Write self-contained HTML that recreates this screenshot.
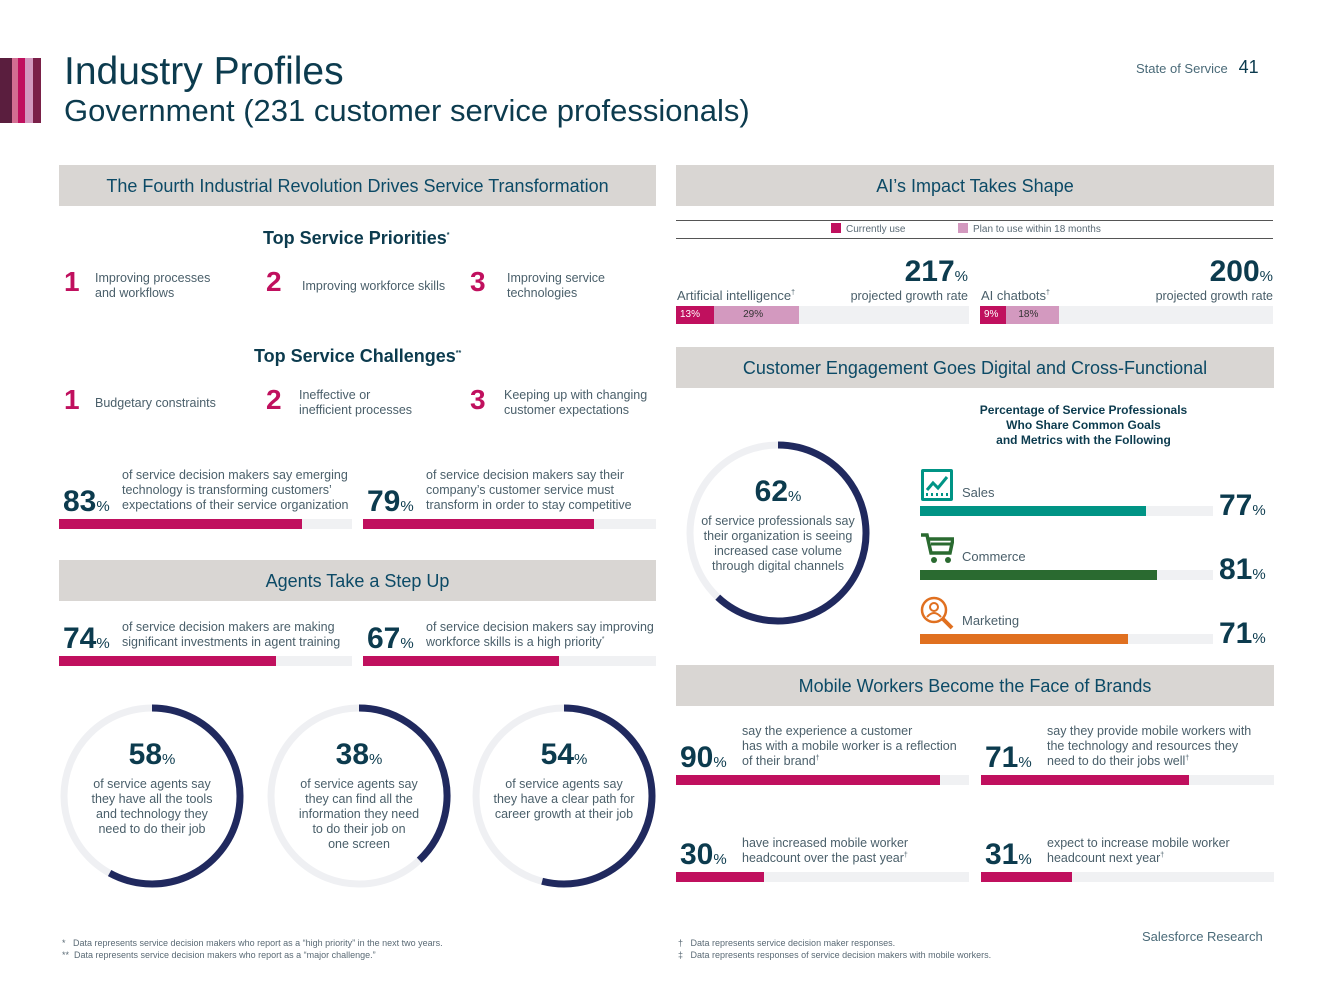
<!DOCTYPE html>
<html><head><meta charset="utf-8">
<style>
*{margin:0;padding:0;box-sizing:border-box}
body{width:1333px;height:1000px;background:#fff;position:relative;overflow:hidden;font-family:"Liberation Sans",sans-serif;color:#0c3b4e}
.a{position:absolute}
.hdr{position:absolute;background:#d9d6d3;height:41px;text-align:center;font-size:18px;line-height:43px;color:#0c4a66}
.big{font-weight:bold;color:#0c3b4e}
.pc{font-size:15px;font-weight:normal;color:#0c3b4e}
.sm{font-size:12.5px;color:#4a5f6a;line-height:15px}
sup{line-height:0;font-size:7px}
.num{font-size:28px;color:#c0105e;font-weight:bold}
.track{position:absolute;background:#f0f1f3;height:10px}
.fill{position:absolute;left:0;top:0;height:100%}
</style></head><body>
<div class="a" style="left:0;top:58px;width:41px;height:65px;display:flex">
<div style="width:12px;background:#5a1e3e"></div><div style="width:6px;background:#d36e92"></div><div style="width:7px;background:#c0105e"></div><div style="width:8px;background:#d399bf"></div><div style="width:8px;background:#7a2048"></div></div>
<div class="a" style="left:64px;top:50px;font-size:39px;color:#0c3b4e">Industry Profiles</div>
<div class="a" style="left:64px;top:93px;font-size:31px;color:#0c3b4e">Government (231 customer service professionals)</div>
<div class="a" style="left:1136px;top:57px;font-size:13px;color:#4a6a78">State of Service &nbsp; <span style="font-size:18px;color:#0c3b4e">41</span></div>

<div class="hdr" style="left:59px;top:165px;width:597px">The Fourth Industrial Revolution Drives Service Transformation</div>
<div class="hdr" style="left:676px;top:165px;width:598px">AI’s Impact Takes Shape</div>
<div class="hdr" style="left:676px;top:347px;width:598px">Customer Engagement Goes Digital and Cross-Functional</div>
<div class="hdr" style="left:59px;top:560px;width:597px">Agents Take a Step Up</div>
<div class="hdr" style="left:676px;top:665px;width:598px">Mobile Workers Become the Face of Brands</div>

<div class="a big" style="left:263px;top:228px;font-size:18px">Top Service Priorities<sup>*</sup></div>
<div class="a num" style="left:64px;top:266px">1</div>
<div class="a sm" style="left:95px;top:271px">Improving processes<br>and workflows</div>
<div class="a num" style="left:266px;top:266px">2</div>
<div class="a sm" style="left:302px;top:279px">Improving workforce skills</div>
<div class="a num" style="left:470px;top:266px">3</div>
<div class="a sm" style="left:507px;top:271px">Improving service<br>technologies</div>

<div class="a big" style="left:254px;top:346px;font-size:18px">Top Service Challenges<sup>**</sup></div>
<div class="a num" style="left:64px;top:384px">1</div>
<div class="a sm" style="left:95px;top:396px">Budgetary constraints</div>
<div class="a num" style="left:266px;top:384px">2</div>
<div class="a sm" style="left:299px;top:388px">Ineffective or<br>inefficient processes</div>
<div class="a num" style="left:470px;top:384px">3</div>
<div class="a sm" style="left:504px;top:388px">Keeping up with changing<br>customer expectations</div>

<div class="a" style="left:676px;top:220px;width:597px;height:1px;background:#555"></div>
<div class="a" style="left:676px;top:238px;width:597px;height:1px;background:#555"></div>
<div class="a" style="left:831px;top:223px;font-size:10px;color:#5a6a75"><span style="display:inline-block;width:10px;height:10px;background:#c0105e;vertical-align:-1px;margin-right:5px"></span>Currently use</div>
<div class="a" style="left:958px;top:223px;font-size:10px;color:#5a6a75"><span style="display:inline-block;width:10px;height:10px;background:#d399bf;vertical-align:-1px;margin-right:5px"></span>Plan to use within 18 months</div>
<div class="a sm" style="left:677px;top:288px;font-size:13px">Artificial intelligence<sup>†</sup></div>
<div class="a" style="left:820px;top:255px;width:148px;text-align:right;white-space:nowrap"><span class="big" style="font-size:30px">217</span><span class="pc">%</span><div class="sm" style="font-size:12.5px">projected growth rate</div></div>
<div class="a sm" style="left:981px;top:288px;font-size:13px">AI chatbots<sup>†</sup></div>
<div class="a" style="left:1120px;top:255px;width:153px;text-align:right;white-space:nowrap"><span class="big" style="font-size:30px">200</span><span class="pc">%</span><div class="sm" style="font-size:12.5px">projected growth rate</div></div>

<div class="a" style="left:940px;top:403px;width:287px;text-align:center;font-size:12px;font-weight:bold;line-height:15px">Percentage of Service Professionals<br>Who Share Common Goals<br>and Metrics with the Following</div>

<svg class="a" style="left:0;top:0" width="1333" height="1000" id="svg"></svg>
<div id="layer"></div>

<div class="a" style="left:62px;top:937px;font-size:9px;color:#5a6a75;line-height:12px">* &nbsp;&nbsp;Data represents service decision makers who report as a “high priority” in the next two years.<br>** &nbsp;Data represents service decision makers who report as a “major challenge.”</div>
<div class="a" style="left:678px;top:937px;font-size:9px;color:#5a6a75;line-height:12px">† &nbsp;&nbsp;Data represents service decision maker responses.<br>‡ &nbsp;&nbsp;Data represents responses of service decision makers with mobile workers.</div>
<div class="a" style="left:1142px;top:929px;font-size:13px;color:#4a6a78">Salesforce Research</div>

<script>
const statNames=["emerging-tech","must-transform","agent-training","workforce-skills","brand-reflection","mobile-tech","headcount-past","headcount-next"];
const statValues=[83,79,74,67,90,71,30,31];
const statTexts=["of service decision makers say emerging<br>technology is transforming customers’<br>expectations of their service organization","of service decision makers say their<br>company’s customer service must<br>transform in order to stay competitive","of service decision makers are making<br>significant investments in agent training","of service decision makers say improving<br>workforce skills is a high priority<sup>*</sup>","say the experience a customer<br>has with a mobile worker is a reflection<br>of their brand<sup>†</sup>","say they provide mobile workers with<br>the technology and resources they<br>need to do their jobs well<sup>†</sup>","have increased mobile worker<br>headcount over the past year<sup>†</sup>","expect to increase mobile worker<br>headcount next year<sup>†</sup>"];
const donutNames=["case-volume","tools","find-info","career-path"];
const donutValues=[62,58,38,54];
const donutTexts=["of service professionals say<br>their organization is seeing<br>increased case volume<br>through digital channels","of service agents say<br>they have all the tools<br>and technology they<br>need to do their job","of service agents say<br>they can find all the<br>information they need<br>to do their job on<br>one screen","of service agents say<br>they have a clear path for<br>career growth at their job"];
const funcNames=["Sales","Commerce","Marketing"];
const funcValues=[77,81,71];
const aiNames=["ai","chatbots"];
const aiCurrent=[13,9];
const aiPlan=[29,18];

const layer=document.getElementById('layer');
const svg=document.getElementById('svg');
const NS='http://www.w3.org/2000/svg';
const W=293;
const xs=v=>v/100*W;

const statPos=[[59,470,519],[363,470,519],[59,622,656],[363,622,656],[676,727,775],[981,727,775],[676,837,872],[981,837,872]];
statValues.forEach((v,i)=>{
  const [x,ty,by]=statPos[i];
  const t=document.createElement('div');
  t.className='a';t.style.left=(x+4)+'px';
  const lines=statTexts[i].split('<br>').length;
  t.style.top=(by-6-lines*15)+'px';
  t.innerHTML='<span class="big" style="font-size:30px;position:absolute;left:0;bottom:-6px;white-space:nowrap">'+v+'<span class="pc">%</span></span><div class="sm" style="position:relative;left:'+(i>=4?62:59)+'px;white-space:nowrap">'+statTexts[i]+'</div>';
  
  
  layer.appendChild(t);
  const tr=document.createElement('div');
  tr.className='track';tr.style.left=x+'px';tr.style.top=by+'px';tr.style.width=W+'px';
  
  
  const f=document.createElement('div');
  f.className='fill';f.style.width=xs(v)+'px';f.style.background='#c0105e';
  
  
  tr.appendChild(f);layer.appendChild(tr);
});

const donutPos=[[778,533],[152,796],[359,796],[564,796]];
const R=88;
donutValues.forEach((v,i)=>{
  const [cx,cy]=donutPos[i];
  const c=document.createElementNS(NS,'circle');
  c.setAttribute('cx',cx);c.setAttribute('cy',cy);c.setAttribute('r',R);
  c.setAttribute('fill','none');c.setAttribute('stroke','#eff0f3');c.setAttribute('stroke-width',7);
  
  
  svg.appendChild(c);
  const a=v/100*2*Math.PI;
  const x1=cx,y1=cy-R,x2=cx+R*Math.sin(a),y2=cy-R*Math.cos(a);
  const p=document.createElementNS(NS,'path');
  p.setAttribute('d',`M${x1} ${y1} A${R} ${R} 0 ${v>50?1:0} 1 ${x2} ${y2}`);
  p.setAttribute('fill','none');p.setAttribute('stroke','#20295e');p.setAttribute('stroke-width',7);
  
  
  svg.appendChild(p);
  const t=document.createElement('div');
  t.className='a';t.style.left=(cx-80)+'px';t.style.width='160px';t.style.textAlign='center';
  t.style.top=(cy-(i==0?58:58))+'px';
  t.innerHTML='<div class="big" style="font-size:30px;line-height:34px">'+v+'<span class="pc">%</span></div><div class="sm" style="font-size:12.5px">'+donutTexts[i]+'</div>';
  
  
  layer.appendChild(t);
});

const funcColors=['#009485','#2a6a30','#e07020'];
const funcY=[506,570,634];
const icons=['<svg width="34" height="34"><rect x="1" y="1" width="32" height="32" rx="2" fill="#009485"/><rect x="4" y="4" width="26" height="26" fill="#fff"/><polyline points="7,22 13,15 18,20 27,9" stroke="#009485" stroke-width="3" fill="none"/><path d="M7 28v-3M12 28v-3M17 28v-3M22 28v-3M27 28v-3" stroke="#009485" stroke-width="2"/></svg>',
'<svg width="34" height="34"><path d="M1 3h6l4 18h19l3-14H9" stroke="#2a6a30" stroke-width="3.5" fill="none"/><path d="M11 12h20" stroke="#2a6a30" stroke-width="3"/><circle cx="14" cy="28" r="3" fill="#2a6a30"/><circle cx="28" cy="28" r="3" fill="#2a6a30"/></svg>',
'<svg width="34" height="34"><circle cx="14" cy="14" r="12" stroke="#e07020" stroke-width="2.5" fill="none"/><circle cx="14" cy="11" r="4" stroke="#e07020" stroke-width="2" fill="none"/><path d="M7 21q7-8 14 0" stroke="#e07020" stroke-width="2" fill="none"/><path d="M23 23l9 9" stroke="#e07020" stroke-width="4"/></svg>'];
funcValues.forEach((v,i)=>{
  const y=funcY[i];
  const ic=document.createElement('div');
  ic.className='a';ic.style.left='920px';ic.style.top=(y-38)+'px';ic.innerHTML=icons[i];
  
  
  layer.appendChild(ic);
  const l=document.createElement('div');
  l.className='a sm';l.style.left='962px';l.style.top=(y-21)+'px';l.style.fontSize='13px';l.textContent=funcNames[i];
  
  
  layer.appendChild(l);
  const tr=document.createElement('div');
  tr.className='track';tr.style.left='920px';tr.style.top=y+'px';tr.style.width=W+'px';
  
  
  const f=document.createElement('div');
  f.className='fill';f.style.width=xs(v)+'px';f.style.background=funcColors[i];
  
  
  tr.appendChild(f);layer.appendChild(tr);
  const n=document.createElement('div');
  n.className='a big';n.style.left='1219px';n.style.top=(y-17)+'px';n.style.fontSize='30px';
  n.innerHTML=v+'<span class="pc">%</span>';
  
  
  layer.appendChild(n);
});

const aiX=[676,980];
aiNames.forEach((nm,i)=>{
  const tr=document.createElement('div');
  tr.className='track';tr.style.left=aiX[i]+'px';tr.style.top='306px';tr.style.height='18px';tr.style.width=W+'px';
  
  
  const c=document.createElement('div');
  c.className='fill';c.style.width=xs(aiCurrent[i])+'px';c.style.background='#c0105e';
  c.style.color='#fff';c.style.fontSize='10px';c.style.lineHeight='18px';c.style.paddingLeft='4px';c.textContent=aiCurrent[i]+'%';
  
  
  const p=document.createElement('div');
  p.className='fill';p.style.left=xs(aiCurrent[i])+'px';p.style.width=xs(aiPlan[i])+'px';p.style.background='#d399bf';
  p.style.color='#333';p.style.fontSize='10px';p.style.lineHeight='18px';p.style.paddingLeft=(i==0?29:12)+'px';p.textContent=aiPlan[i]+'%';
  
  
  tr.appendChild(c);tr.appendChild(p);layer.appendChild(tr);
});
</script>
</body></html>
